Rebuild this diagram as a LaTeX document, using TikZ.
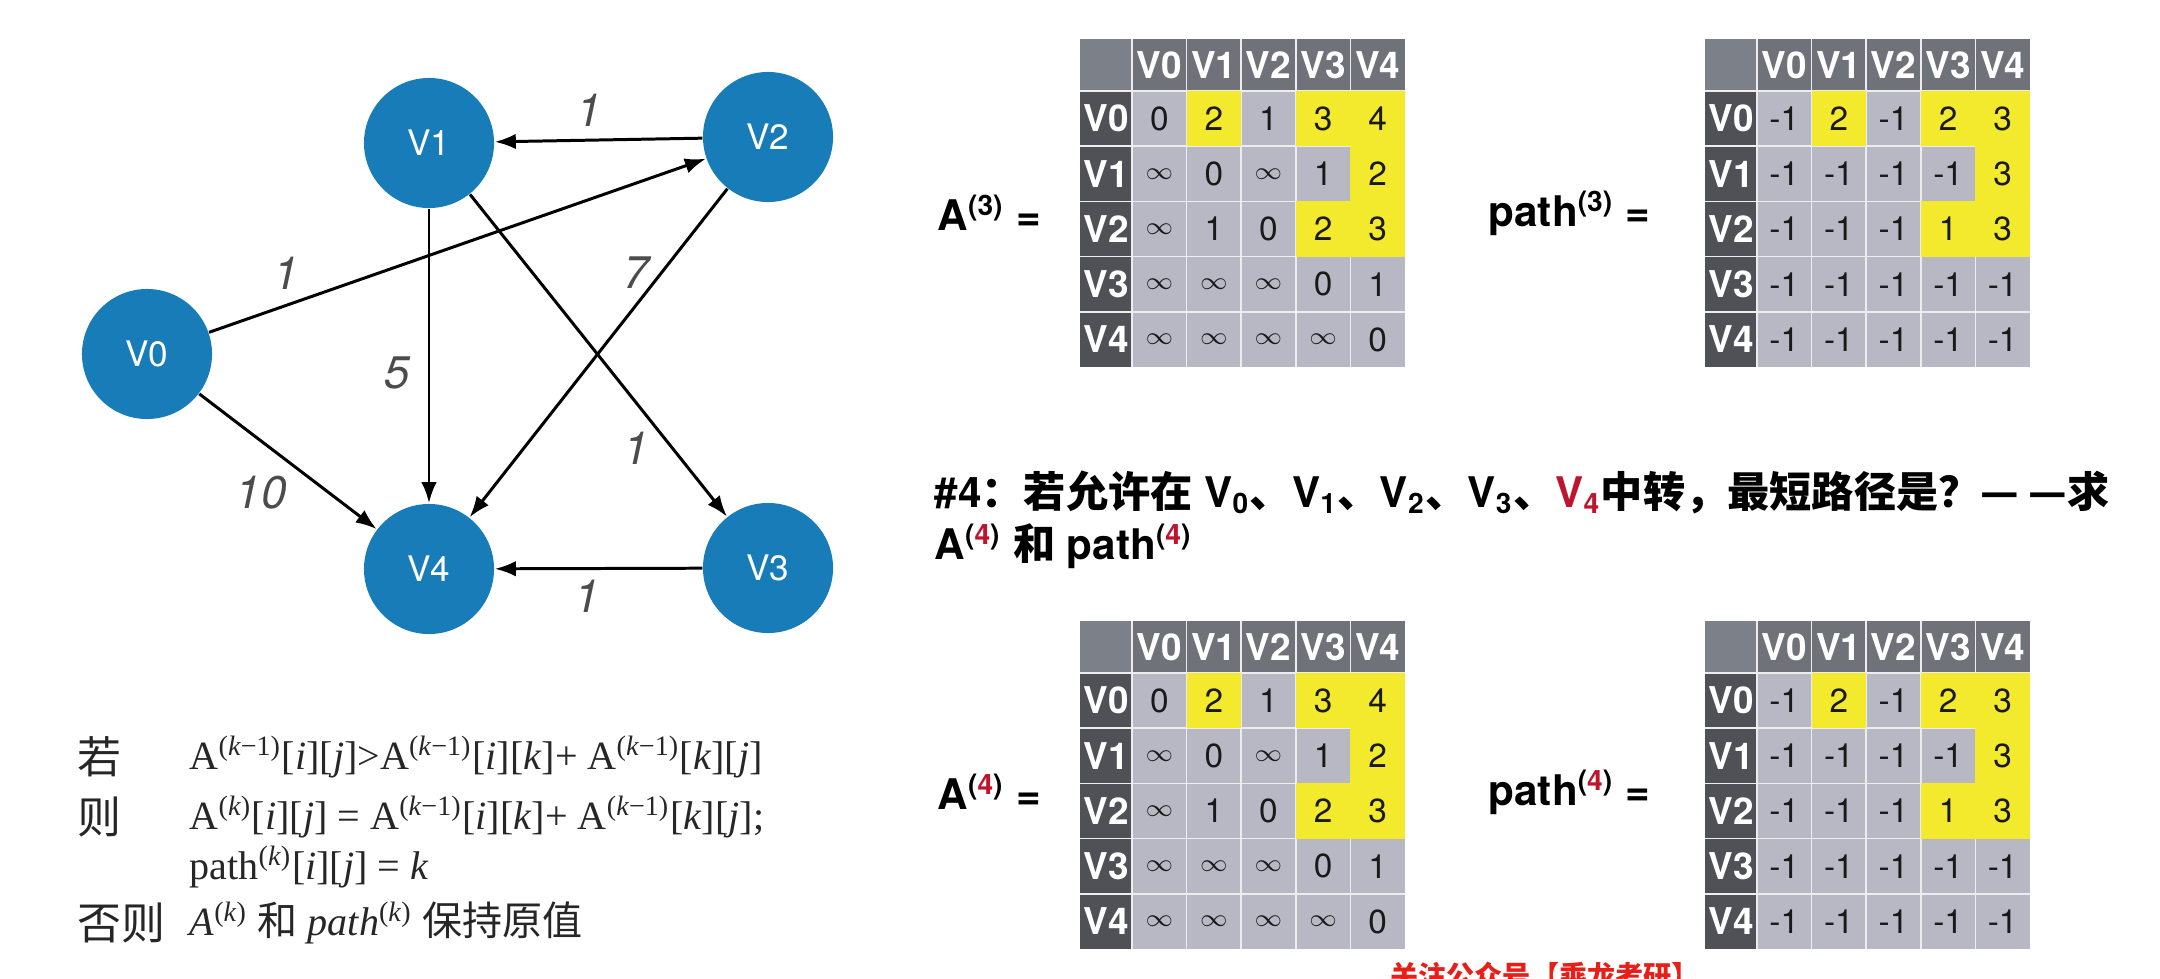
\documentclass[tikz,border=0pt]{standalone}
\usepackage{fontspec}
\setsansfont{TeX Gyre Heros}
\newfontfamily\timesfont{Liberation Serif}
\newfontfamily\cjk{Noto Sans CJK SC}
\usetikzlibrary{arrows.meta, positioning}

\definecolor{nodeblue}{RGB}{24,124,184}
\definecolor{headgray}{RGB}{112,114,121}
\definecolor{cornergray}{RGB}{124,128,136}
\definecolor{rowgray}{RGB}{80,81,86}
\definecolor{cellgray}{RGB}{184,184,196}
\definecolor{markyellow}{RGB}{243,233,45}
\definecolor{darkred}{RGB}{190,20,45}
\definecolor{brightred}{RGB}{232,30,25}

\newcommand{\zh}[1]{{\cjk #1}}
\newcommand{\infcell}{{\fontsize{7.5}{9}\selectfont$\infty$}}

\tikzset{
  vert/.style={circle, fill=nodeblue, minimum size=1.3cm, inner sep=0pt, text=white,
    font=\sffamily\fontsize{10}{12}\selectfont},
  edge/.style={-{Latex[length=6pt,width=4.4pt]}, line width=0.85pt, black},
  wlabel/.style={font=\sffamily\itshape\fontsize{13}{15}\selectfont, text=black!70},
  gridline/.style={white!75!cellgray, line width=0.5pt},
  headtxt/.style={text=white, font=\sffamily\bfseries\fontsize{10.5}{12}\selectfont},
  celltxt/.style={text=black!90, font=\sffamily\fontsize{9.5}{11}\selectfont},
  eqlabel/.style={anchor=west, inner sep=0pt, font=\sffamily\bfseries\fontsize{12}{14}\selectfont},
  question/.style={anchor=west, inner sep=0pt, font=\sffamily\bfseries\fontsize{12}{14}\selectfont},
  formula/.style={anchor=west, inner sep=0pt, text=black!85, font=\timesfont\fontsize{11.4}{14}\selectfont},
  zhlabel/.style={anchor=west, inner sep=0pt, text=black!85, font=\cjk\fontsize{12.5}{15}\selectfont}
}

% one 5x5 table with row and column heads
\newcommand{\valtable}[3]{%
  \begin{scope}[shift={#2}]
    \fill[cornergray] (0,0) rectangle (52,52);
    \fill[headgray] (52,0) rectangle (325,52);
    \fill[rowgray] (0,52) rectangle (52,328);
    \fill[cellgray] (52,52) rectangle (325,328);
    \foreach \i in {0,...,4} {
      \draw[gridline] ({52+\i*54.6},0) -- ({52+\i*54.6},328);
      \draw[gridline] (0,{52+\i*55.2}) -- (325,{52+\i*55.2});
    }
    \foreach \ri/\ci in {1/2,1/4,1/5,2/5,3/4,3/5}
      \fill[markyellow] ({52+(\ci-1)*54.6},{52+(\ri-1)*55.2}) rectangle ++(54.6,55.2);
    \foreach \lab [count=\ci] in {V0,V1,V2,V3,V4} {
      \node[headtxt] (#1-h\ci) at ({52+(\ci-0.5)*54.6},26) {\lab};
      \node[headtxt] (#1-r\ci) at (26,{52+(\ci-0.5)*55.2}) {\lab};
    }
    \foreach \rowvals [count=\ri] in {#3}
      \foreach \v [count=\ci] in \rowvals
        \node[celltxt] (#1-\ri-\ci) at ({52+(\ci-0.5)*54.6},{52+(\ri-0.5)*55.2}) {\v};
  \end{scope}}

\begin{document}
\begin{tikzpicture}[x=0.01cm, y=-0.01cm]
\useasboundingbox (0,0) rectangle (2160,978);

% graph
\node[vert] (v0) at (147,354) {V0};
\node[vert] (v1) at (429,143) {V1};
\node[vert] (v2) at (768,137) {V2};
\node[vert] (v3) at (768,568) {V3};
\node[vert] (v4) at (429,569) {V4};

\draw[edge] (v2) -- (v1);
\draw[edge] (v0) -- (v2);
\draw[edge] (v1) -- (v4);
\draw[edge] (v1) -- (v3);
\draw[edge] (v2) -- (v4);
\draw[edge] (v0) -- (v4);
\draw[edge] (v3) -- (v4);

\node[wlabel] (w21) at (589,110) {1};
\node[wlabel] (w02) at (286,273) {1};
\node[wlabel] (w14) at (397,373) {5};
\node[wlabel] (w24) at (636,273) {7};
\node[wlabel] (w13) at (636,448) {1};
\node[wlabel] (w04) at (261,493) {10};
\node[wlabel] (w34) at (587,596) {1};

% update rule
\node[zhlabel] (ruleif) at (77,757) {若};
\node[zhlabel] (rulethen) at (77,817) {则};
\node[zhlabel] (ruleelse) at (77,923) {否则};
\node[formula] (f1) at (189,757) {A\textsuperscript{(\textit{k}−1)}[\textit{i}][\textit{j}]>A\textsuperscript{(\textit{k}−1)}[\textit{i}][\textit{k}]+ A\textsuperscript{(\textit{k}−1)}[\textit{k}][\textit{j}]};
\node[formula] (f2) at (189,817) {A\textsuperscript{(\textit{k})}[\textit{i}][\textit{j}] = A\textsuperscript{(\textit{k}−1)}[\textit{i}][\textit{k}]+ A\textsuperscript{(\textit{k}−1)}[\textit{k}][\textit{j}];};
\node[formula] (f3) at (189,867) {path\textsuperscript{(\textit{k})}[\textit{i}][\textit{j}] = \textit{k}};
\node[formula] (f4) at (189,923) {\textit{A}\textsuperscript{(\textit{k})} \zh{和} \textit{path}\textsuperscript{(\textit{k})} \zh{保持原值}};

% step 3 tables
\node[eqlabel] (a3) at (937,213) {A\textsuperscript{(3)} =};
\node[eqlabel] (p3) at (1488,213) {path\textsuperscript{(3)} =};
\valtable{ta3}{(1080,39)}{{0,2,1,3,4},{\infcell,0,\infcell,1,2},{\infcell,1,0,2,3},{\infcell,\infcell,\infcell,0,1},{\infcell,\infcell,\infcell,\infcell,0}}
\valtable{tp3}{(1705,39)}{{-1,2,-1,2,3},{-1,-1,-1,-1,3},{-1,-1,-1,1,3},{-1,-1,-1,-1,-1},{-1,-1,-1,-1,-1}}

% question
\node[question] (q1) at (934,492) {\#4\zh{：若允许在} V\textsubscript{0}\zh{、}V\textsubscript{1}\zh{、}V\textsubscript{2}\zh{、}V\textsubscript{3}\zh{、}{\color{darkred}V\textsubscript{4}}\zh{中转，最短路径是？— —求}};
\node[question] (q2) at (934,546) {A\textsuperscript{(\textcolor{darkred}{4})} \zh{和} path\textsuperscript{(\textcolor{darkred}{4})}};

% step 4 tables
\node[eqlabel] (a4) at (937,792) {A\textsuperscript{(\textcolor{darkred}{4})} =};
\node[eqlabel] (p4) at (1488,792) {path\textsuperscript{(\textcolor{darkred}{4})} =};
\valtable{ta4}{(1080,621)}{{0,2,1,3,4},{\infcell,0,\infcell,1,2},{\infcell,1,0,2,3},{\infcell,\infcell,\infcell,0,1},{\infcell,\infcell,\infcell,\infcell,0}}
\valtable{tp4}{(1705,621)}{{-1,2,-1,2,3},{-1,-1,-1,-1,3},{-1,-1,-1,1,3},{-1,-1,-1,-1,-1},{-1,-1,-1,-1,-1}}

\node[anchor=west, text=brightred, font=\cjk\bfseries\fontsize{8}{10}\selectfont] (notice) at (1378,976) {关注公众号【乘龙考研】};
\end{tikzpicture}
\end{document}
